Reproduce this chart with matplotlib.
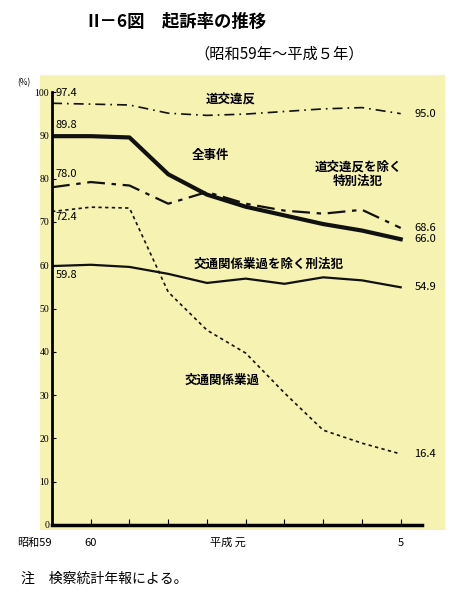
import matplotlib
matplotlib.use("Agg")
import matplotlib.pyplot as plt
from matplotlib.patches import Rectangle

plt.rcParams['font.family'] = ['Noto Sans CJK JP', 'DejaVu Sans']

years = list(range(10))
tick_pos = [0, 1, 5, 9]
tick_labels = ['昭和59', '60', '平成 元', '5']
all_cases = [89.8, 89.8, 89.5, 81.0, 76.3, 73.5, 71.5, 69.5, 68.0, 66.0]
road_traffic = [97.4, 97.2, 97.0, 95.1, 94.6, 94.9, 95.5, 96.1, 96.4, 95.0]
special_law = [78.0, 79.2, 78.4, 74.2, 76.9, 74.2, 72.6, 71.9, 72.8, 68.6]
penal_code = [59.8, 60.1, 59.6, 58.0, 55.9, 56.9, 55.7, 57.2, 56.5, 54.9]
traffic_neg = [72.4, 73.4, 73.2, 53.8, 45.0, 39.7, 30.5, 21.9, 18.9, 16.4]

fig = plt.figure(figsize=(4.62, 6), dpi=100)
fig.patches.append(Rectangle((40/462, 70/600), 405/462, 455/600, transform=fig.transFigure,
                             facecolor='#f5f2b2', edgecolor='none', zorder=-5))
ax = fig.add_axes([52/462, 75/600, 370/462, 433/600])
ax.set_facecolor('none')
ax.set_xlim(0, 9.55)
ax.set_ylim(0, 100)
for s in ['top', 'right']:
    ax.spines[s].set_visible(False)
ax.spines['left'].set_linewidth(2)
ax.spines['bottom'].set_linewidth(2.5)
ax.set_yticks(range(0, 101, 10))
ax.set_yticklabels([str(v) for v in range(0, 101, 10)], fontsize=7, family='Liberation Serif')
ax.tick_params(axis='y', length=3, direction='in', pad=2)
ax.set_xticks(years)
ax.set_xticklabels(['']*10)
ax.tick_params(axis='x', length=4, direction='in')
for p, l in zip(tick_pos, tick_labels):
    off = -0.45 if p in (0, 5) else 0
    ax.text(p + off, -3, l, ha='center', va='top', fontsize=8)

k = dict(color='#111111')
ax.plot(years, road_traffic, linestyle=(0, (6, 3, 1, 3)), lw=1.2, **k)
ax.plot(years, all_cases, lw=3, **k)
ax.plot(years, special_law, linestyle=(0, (8, 3, 2, 3)), lw=1.6, **k)
ax.plot(years, penal_code, lw=1.6, **k)
ax.plot(years, traffic_neg, linestyle=(0, (2, 2)), lw=1.2, **k)

fs = 8
ax.text(0.1, 98.5, '97.4', fontsize=fs, va='bottom')
ax.text(0.1, 91.2, '89.8', fontsize=fs, va='bottom')
ax.text(0.1, 80.0, '78.0', fontsize=fs, va='bottom')
ax.text(0.1, 70.0, '72.4', fontsize=fs, va='bottom')
ax.text(0.1, 56.5, '59.8', fontsize=fs, va='bottom')
for v, y in [('95.0', 95.0), ('68.6', 68.6), ('66.0', 66.0), ('54.9', 54.9), ('16.4', 16.4)]:
    ax.text(9.35, y, v, fontsize=fs, va='center')
ax.text(4.6, 97.5, '道交違反', fontsize=9, ha='center', weight='bold')
ax.text(4.1, 84.5, '全事件', fontsize=9, ha='center', weight='bold')
ax.text(7.9, 78.5, '道交違反を除く\n特別法犯', fontsize=9, ha='center', weight='bold', linespacing=1.2)
ax.text(5.6, 59.5, '交通関係業過を除く刑法犯', fontsize=9, ha='center', weight='bold')
ax.text(4.4, 32.5, '交通関係業過', fontsize=9, ha='center', weight='bold')
ax.text(-0.9, 101.5, '(%)', fontsize=6)

fig.text(0.19, 0.963, 'II－6図　起訴率の推移', fontsize=12.5, weight='bold', va='center')
fig.text(0.42, 0.91, '（昭和59年～平成５年）', fontsize=11, va='center')
fig.text(0.045, 0.035, '注　検察統計年報による。', fontsize=10, va='center')

fig.savefig('out.png', dpi=100, facecolor='white')
